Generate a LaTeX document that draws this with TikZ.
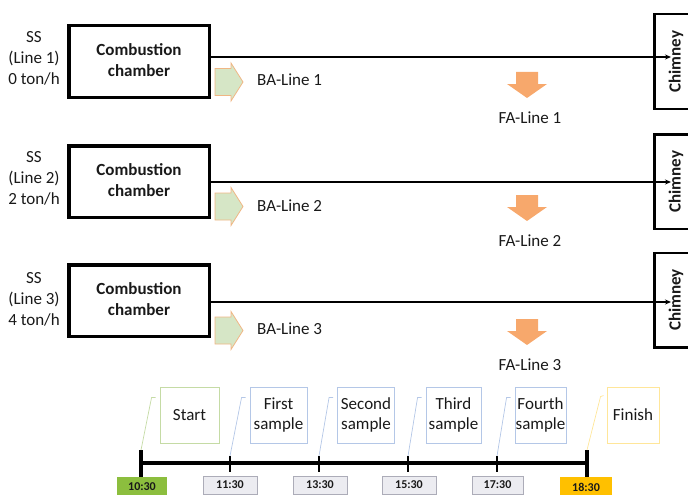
\documentclass[tikz,border=0pt]{standalone}
\usepackage{fontspec}
\setmainfont{Carlito}
\usetikzlibrary{calc,arrows.meta}
\definecolor{txt}{RGB}{25,25,25}
\definecolor{bafill}{RGB}{214,230,198}
\definecolor{badraw}{RGB}{240,182,132}
\definecolor{fafill}{RGB}{247,168,108}
\definecolor{tgreen}{RGB}{140,190,62}
\definecolor{torange}{RGB}{255,192,0}
\definecolor{tgrayf}{RGB}{236,236,241}
\definecolor{tgrayd}{RGB}{172,172,184}
\definecolor{cgreen}{RGB}{197,219,165}
\definecolor{cblue}{RGB}{180,199,231}
\definecolor{cyellow}{RGB}{255,230,153}
\begin{document}
\begin{tikzpicture}[x=1pt,y=-1pt,
  every node/.style={text=txt},
  sslabel/.style={align=center,font=\fontsize{17}{21}\selectfont,inner sep=0pt},
  combox/.style={draw=black,line width=3.5pt,minimum width=140.5pt,minimum height=71.5pt,
    inner sep=0pt,align=center,font=\fontsize{17}{21}\selectfont\bfseries},
  chim/.style={draw=black,line width=2.5pt,rotate=90,minimum width=94.5pt,minimum height=43.5pt,
    inner sep=0pt,font=\fontsize{17}{21}\selectfont\bfseries},
  flow/.style={line width=1.3pt,-{Stealth[length=6pt,width=5pt]},shorten >=5pt},
  lbl/.style={inner sep=0pt,font=\fontsize{17}{21}\selectfont},
  baarrow/.style={fill=bafill,draw=badraw,line width=0.8pt,line join=miter},
  faarrow/.style={fill=fafill},
  tbox/.style={inner sep=0pt,minimum width=50pt,minimum height=20pt,font=\fontsize{12}{14}\selectfont\bfseries},
  tgray/.style={tbox,fill=tgrayf,draw=tgrayd,line width=0.7pt,minimum width=54pt,minimum height=18pt},
  cbox/.style={draw,line width=0.9pt,inner sep=0pt,minimum height=56pt,align=center,
    font=\fontsize{17}{20}\selectfont},
  lead/.style={line width=0.7pt},
  bigtick/.style={line width=3.5pt},
  smalltick/.style={line width=2.5pt}
]
\useasboundingbox (0,0) rectangle (688,495);
\clip (0,0) rectangle (688,495);

\foreach \i/\t/\bc/\ly/\cc/\bac/\bat/\fat/\fatx/\ssy in
  {1/0/61.5/57/61.5/82/80/72/118/58,
   2/2/181.5/182/181.5/206.5/206/195/241/178.5,
   3/4/300.5/302/300/330.5/329/319/365/299.5}{
  \node[sslabel] (ss\i) at (34,\ssy) {SS\\(Line \i)\\\t{} ton/h};
  \node[combox] (cb\i) at (139,\bc) {Combustion\\chamber\vphantom{p}};
  \node[chim] (ch\i) at (676,\cc) {Chimney};
  \coordinate (l\i) at (0,\ly);
  \draw[flow] (cb\i.east |- l\i) -- (ch\i.west |- l\i);
  \draw[baarrow] (215,\bac-13.5) -- (231,\bac-13.5) -- (231,\bac-19) -- (243,\bac)
    -- (231,\bac+19) -- (231,\bac+13.5) -- (215,\bac+13.5) -- cycle;
  \node[lbl,anchor=west] (bt\i) at (257,\bat) {BA-Line \i};
  \fill[faarrow] (516,\fat) -- (538,\fat) -- (538,\fat+12) -- (547,\fat+12)
    -- (527,\fat+26) -- (507,\fat+12) -- (516,\fat+12) -- cycle;
  \node[lbl] (ft\i) at (530,\fatx) {FA-Line \i};
}

% timeline
\coordinate (tl0) at (141,463);
\coordinate (tl1) at (587,463);
\draw[line width=4.5pt] (tl0) -- (tl1);
\coordinate (k1) at (141,450);
\coordinate (k2) at (230,456);
\coordinate (k3) at (319,456);
\coordinate (k4) at (408,456);
\coordinate (k5) at (497,456);
\coordinate (k6) at (587,450);
\draw[bigtick] (k1) -- (141,478);
\draw[bigtick] (k6) -- (587,478);
\foreach \x in {2,3,4,5}{
  \draw[smalltick] (k\x) -- ++(0,16);
}

\node[tbox,fill=tgreen] (t1) at (142,487) {10:30};
\node[tgray] (t2) at (230,485) {11:30};
\node[tgray] (t3) at (320,485) {13:30};
\node[tgray] (t4) at (409,485) {15:30};
\node[tgray,minimum width=51pt] (t5) at (497.5,485) {17:30};
\node[tbox,fill=torange,minimum width=52pt] (t6) at (586,487) {18:30};

\node[cbox,draw=cgreen,minimum width=59pt] (c1) at (189.5,415) {Start};
\node[cbox,draw=cblue,minimum width=57pt] (c2) at (278.5,415) {First\\sample};
\node[cbox,draw=cblue,minimum width=57pt] (c3) at (366,415) {Second\\sample};
\node[cbox,draw=cblue,minimum width=55pt] (c4) at (453.5,415) {Third\\sample};
\node[cbox,draw=cblue,minimum width=51pt] (c5) at (540.5,415) {Fourth\\sample};
\node[cbox,draw=cyellow,minimum width=52pt] (c6) at (633,415) {Finish};

\draw[lead,draw=cgreen] (k1) -- ([xshift=-8pt,yshift=-11pt]c1.north west) -- ([xshift=-4pt,yshift=-11pt]c1.north west);
\foreach \x in {2,3,4,5}{
  \draw[lead,draw=cblue] (k\x) -- ([xshift=-8pt,yshift=-11pt]c\x.north west) -- ([xshift=-4pt,yshift=-11pt]c\x.north west);
}
\draw[lead,draw=cyellow] (k6) -- ([xshift=-6pt,yshift=-10pt]c6.north west) -- ([xshift=-3pt,yshift=-9pt]c6.north west);
\end{tikzpicture}
\end{document}
